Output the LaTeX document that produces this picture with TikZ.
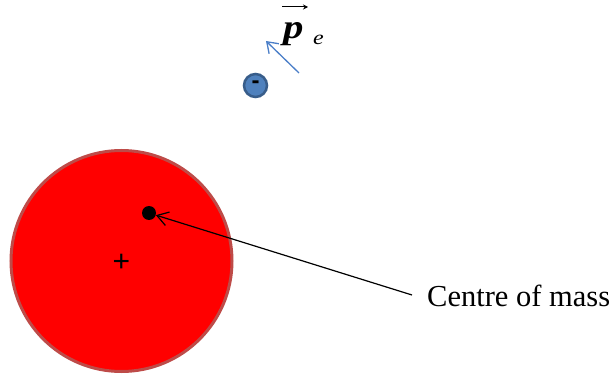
\documentclass[tikz,border=0pt]{standalone}
\usepackage{fontspec}
\setmainfont{Liberation Serif}
\newfontfamily\sansf{Liberation Sans}
\usetikzlibrary{arrows.meta}
\definecolor{ringred}{HTML}{BE4B48}
\definecolor{elfill}{HTML}{4F81BD}
\definecolor{elring}{HTML}{385D8A}
\definecolor{momblue}{HTML}{4A7EC8}
\tikzset{
  bigbody/.style={circle, fill=red, draw=ringred, line width=3pt, minimum size=221pt, inner sep=0pt},
  comdot/.style={circle, fill=black, minimum size=14pt, inner sep=0pt},
  electron/.style={circle, fill=elfill, draw=elring, line width=2.5pt, minimum size=23pt, inner sep=0pt},
  pointer/.style={draw=black, line width=1.2pt, -{Straight Barb[length=11pt, width=14pt, line width=1.2pt]}},
  momentum/.style={draw=momblue, line width=1.3pt, -{Straight Barb[length=10pt, width=14pt, line width=1.3pt]}},
  labeltext/.style={font=\fontsize{30.5}{36}\selectfont, inner sep=0pt}
}
\begin{document}
\begin{tikzpicture}[x=1pt, y=-1pt]
\useasboundingbox (0,0) rectangle (616,377);
% large body
\node[bigbody] (body) at (121.5,261) {};
\node[inner sep=0pt, font=\sansf\fontsize{30}{30}\selectfont] (plus) at (121.5,262.5) {+};
\node[comdot] (com) at (149,213) {};
% label
\node[labeltext, anchor=base west] (lab) at (427,306) {Centre of mass};
\coordinate (lend) at (412,295);
\draw[pointer] (lend) -- (com);
% electron
\node[electron] (el) at (255.5,85.5) {};
\node[inner sep=0pt, font=\sansf\bfseries\fontsize{24}{24}\selectfont] (minus) at (255.5,84.5) {-};
\coordinate (mtail) at (299,73);
\coordinate (mhead) at (266,41);
\draw[momentum] (mtail) -- (mhead);
% momentum label
\node[inner sep=0pt, anchor=base west] (p) at (283,39) {\scalebox{1.2}[1]{\fontsize{34}{38}\selectfont\bfseries\itshape p}};
\node[inner sep=0pt, anchor=base west] (e) at (313,45) {\scalebox{1.2}[1]{\fontsize{20}{24}\selectfont\itshape e}};
\coordinate (vs) at (282,7);
\coordinate (ve) at (308,7);
\draw[line width=1pt, -{Stealth[length=5pt, width=5pt]}] (vs) -- (ve);
\end{tikzpicture}
\end{document}
